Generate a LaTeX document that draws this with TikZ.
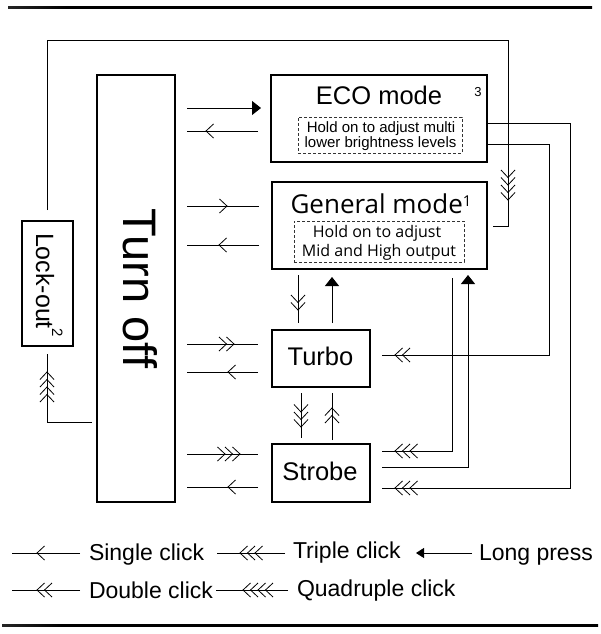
\documentclass[tikz,border=0pt]{standalone}
\usepackage{fontspec}
\setmainfont{Liberation Sans}
\newfontfamily\osans{Open Sans}
\usetikzlibrary{arrows.meta,decorations.markings}

\pgfdeclarehorizontalshading{fadeline}{100bp}{color(0bp)=(white); color(8bp)=(black!35); color(30bp)=(black); color(86bp)=(black); color(100bp)=(white)}

\newcommand\chvs[1]{%
  \foreach \k in {1,...,#1}{%
    \pgfmathsetmacro\ox{-7.5*(\k-1)}%
    \draw[line width=0.8pt, line join=miter] (\ox pt-7.5pt,-7pt) -- (\ox pt,0pt) -- (\ox pt-7.5pt,7pt);%
  }}

\tikzset{
  box/.style={draw=black, line width=1.2pt, inner sep=0pt},
  dbox/.style={draw=black!80, line width=0.9pt, dash pattern=on 3pt off 2pt, inner sep=0pt},
  conn/.style={draw=black, line width=0.9pt},
  lp/.style={-{Triangle[length=9pt,width=14pt]}},
  chev/.style 2 args={postaction={decorate}, decoration={markings, mark=at position #1 with {\chvs{#2}}}},
  big/.style={font=\fontsize{25.5}{30}\selectfont},
  small/.style={font=\fontsize{15}{18}\selectfont},
  leg/.style={font=\fontsize{23}{27}\selectfont, anchor=base west}
}

\begin{document}
\begin{tikzpicture}[x=1pt,y=-1pt, every node/.style={inner sep=0pt, outer sep=0pt}]
\useasboundingbox (0,0) rectangle (600,634);
\fill[white] (0,0) rectangle (600,634);

% horizontal rules
\shade[shading=fadeline] (8,7) rectangle (592,9);
\shade[shading=fadeline] (2,624) rectangle (598,626);

% boxes
\node[box, minimum width=78, minimum height=427] (turnoff) at (136,288.5) {};
\node[box, minimum width=216, minimum height=87] (eco) at (379,118.5) {};
\node[box, minimum width=215, minimum height=87] (gen) at (379.5,225.5) {};
\node[box, minimum width=98, minimum height=57] (turbo) at (321,358.5) {};
\node[box, minimum width=98, minimum height=58] (strobe) at (321,473) {};
\node[box, minimum width=51, minimum height=125] (lock) at (47.5,283.5) {};
\node[dbox, minimum width=164, minimum height=36] (ecod) at (380,135) {};
\node[dbox, minimum width=170, minimum height=41] (gend) at (379,241.5) {};

% texts
\node[anchor=base, rotate=-90, font=\fontsize{47}{50}\selectfont] (turnofft) at (123,288.5) {Turn off};
\node[anchor=base west, rotate=-90, font=\fontsize{25}{30}\selectfont] (lockt) at (36,233) {Lock-out\raisebox{16pt}{\fontsize{15}{15}\selectfont 2}};
\node[big, anchor=base] (ecot) at (379,104) {ECO mode};
\node[font=\fontsize{13}{15}\selectfont] (eco3) at (478,92) {3};
\node[small, anchor=base] (ecod1) at (381,132.7) {Hold on to adjust multi};
\node[small, anchor=base] (ecod2) at (380.5,147.7) {lower brightness levels};
\node[anchor=base, font=\osans\fontsize{26}{30}\selectfont] (gent) at (381,213) {General mode\raisebox{7pt}{\fontsize{15}{15}\selectfont 1}};
\node[anchor=base, font=\osans\fontsize{16}{19}\selectfont] (gend1) at (377,237) {Hold on to adjust};
\node[anchor=base, font=\osans\fontsize{16}{19}\selectfont] (gend2) at (379,256) {Mid and High output};
\node[big, anchor=base] (turbot) at (320.5,365) {Turbo};
\node[big, anchor=base] (strobet) at (320,480) {Strobe};

% connector end points
\coordinate (a1) at (187,108);  \coordinate (a2) at (261,108);
\coordinate (b1) at (258,131);  \coordinate (b2) at (187,131);
\coordinate (c1) at (187,206);  \coordinate (c2) at (259,206);
\coordinate (d1) at (259,245);  \coordinate (d2) at (187,245);
\coordinate (e1) at (187,344);  \coordinate (e2) at (258,344);
\coordinate (f1) at (258,372);  \coordinate (f2) at (187,372);
\coordinate (g1) at (187,454);  \coordinate (g2) at (258,454);
\coordinate (h1) at (258,487);  \coordinate (h2) at (187,487);
\coordinate (v1a) at (298,275); \coordinate (v1b) at (298,323);
\coordinate (v2a) at (332,323); \coordinate (v2b) at (332,277);
\coordinate (v3a) at (301,393); \coordinate (v3b) at (301,438);
\coordinate (v4a) at (332,440); \coordinate (v4b) at (332,393);
\coordinate (r1a) at (452,278); \coordinate (r1b) at (382,451);
\coordinate (r2a) at (382,467); \coordinate (r2b) at (468,275);
\coordinate (r3a) at (488,144); \coordinate (r3m) at (549,355); \coordinate (r3b) at (382,355);
\coordinate (r4a) at (488,123); \coordinate (r4m) at (570,488); \coordinate (r4b) at (382,488);
\coordinate (l1a) at (47,210);  \coordinate (l1m) at (508,40); \coordinate (l1n) at (508,226); \coordinate (l1b) at (493,226);
\coordinate (l2a) at (92,422);  \coordinate (l2b) at (47,354);

% left connectors
\draw[conn, lp] (a1) -- (a2);
\draw[conn, chev={52pt}{1}] (b1) -- (b2);
\draw[conn, chev={40pt}{1}] (c1) -- (c2);
\draw[conn, chev={40pt}{1}] (d1) -- (d2);
\draw[conn, chev={47pt}{2}] (e1) -- (e2);
\draw[conn, chev={30pt}{1}] (f1) -- (f2);
\draw[conn, chev={53pt}{3}] (g1) -- (g2);
\draw[conn, chev={30pt}{1}] (h1) -- (h2);

% vertical connectors
\draw[conn, chev={35pt}{2}] (v1a) -- (v1b);
\draw[conn, lp] (v2a) -- (v2b);
\draw[conn, chev={34pt}{3}] (v3a) -- (v3b);
\draw[conn, chev={32pt}{2}] (v4a) -- (v4b);

% right connectors
\draw[conn, chev={-13pt}{3}] (r1a) |- (r1b);
\draw[conn, lp] (r2a) -| (r2b);
\draw[conn, chev={-13pt}{2}] (r3a) -| (r3m) -- (r3b);
\draw[conn, chev={-13pt}{3}] (r4a) -| (r4m) -- (r4b);

% lock-out connectors
\draw[conn, chev={-41pt}{4}] (l1a) |- (l1m) -- (l1n) -- (l1b);
\draw[conn, chev={-18pt}{4}] (l2a) -| (l2b);

% legend
\coordinate (k1a) at (80,553);  \coordinate (k1b) at (12,553);
\coordinate (k2a) at (285,553); \coordinate (k2b) at (217,553);
\coordinate (k3a) at (472,553); \coordinate (k3b) at (416,553);
\coordinate (k4a) at (80,590);  \coordinate (k4b) at (12,590);
\coordinate (k5a) at (288,590); \coordinate (k5b) at (216,590);
\draw[conn, chev={43pt}{1}] (k1a) -- (k1b);
\draw[conn, chev={45pt}{3}] (k2a) -- (k2b);
\draw[conn, -{Triangle[length=8pt,width=10pt]}] (k3a) -- (k3b);
\draw[conn, chev={43pt}{2}] (k4a) -- (k4b);
\draw[conn, chev={45pt}{4}] (k5a) -- (k5b);
\node[leg] (t1) at (89,560) {Single click};
\node[leg] (t2) at (293,558) {Triple click};
\node[leg] (t3) at (479,560) {Long press};
\node[leg] (t4) at (89,598) {Double click};
\node[leg] (t5) at (297,596) {Quadruple click};
\end{tikzpicture}
\end{document}
